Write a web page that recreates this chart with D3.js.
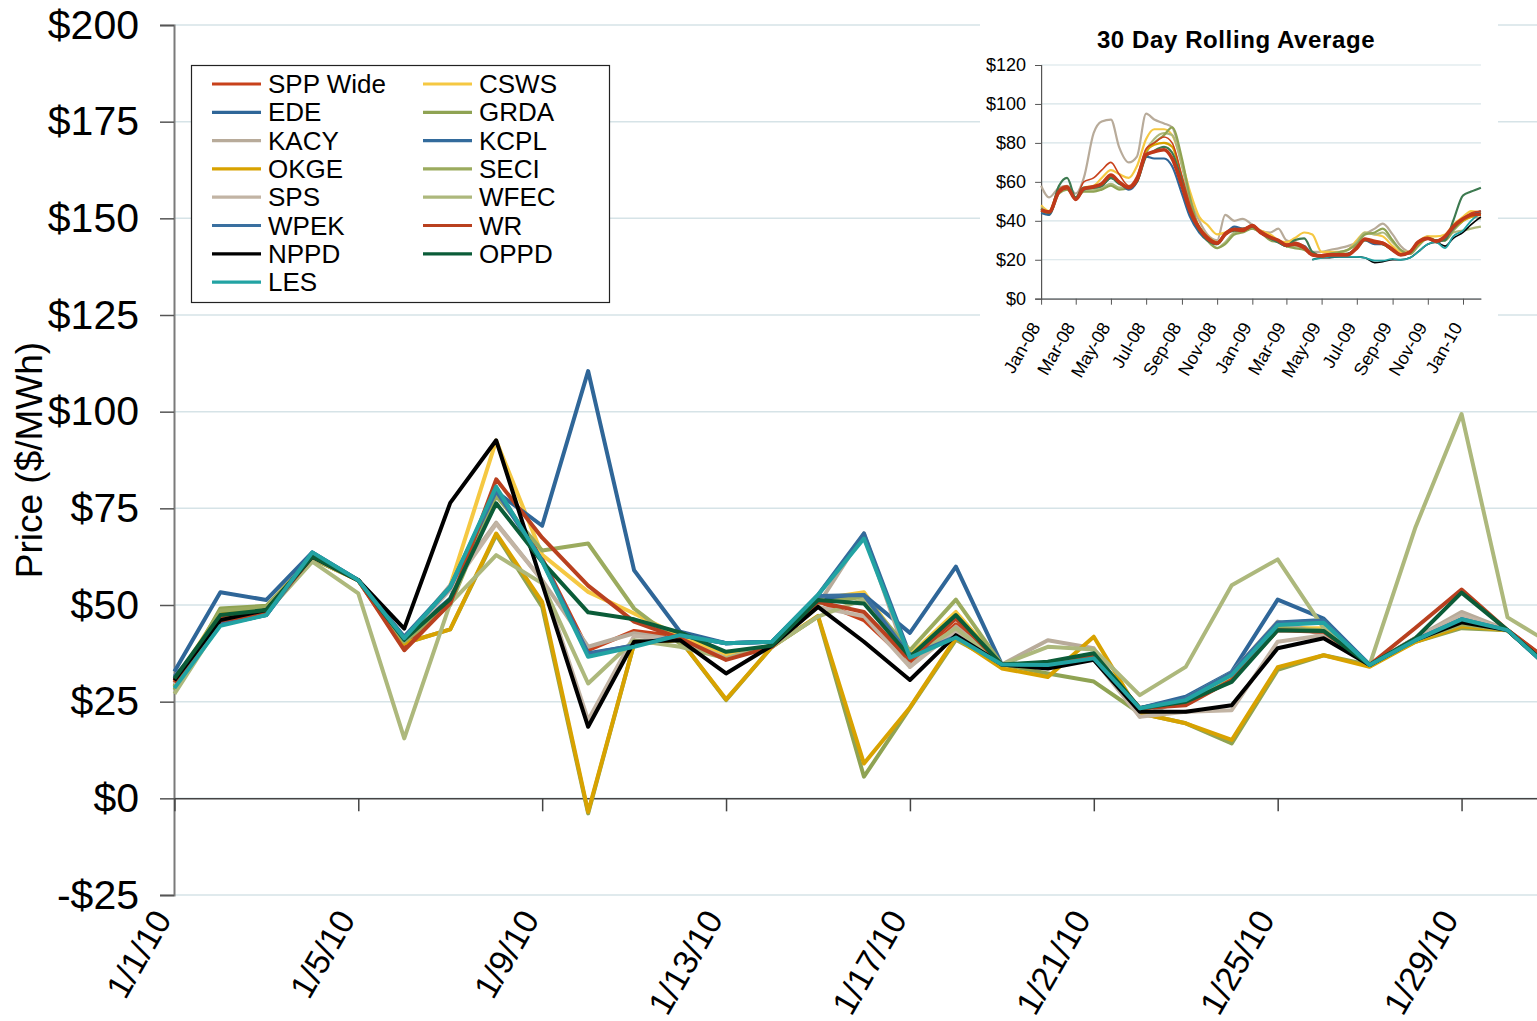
<!DOCTYPE html>
<html lang="en">
<head>
<meta charset="UTF-8">
<title>SPP Daily Prices - January 2010</title>
<script src="https://d3js.org/d3.v7.min.js"></script>
<style>
body { margin: 0; background: #fff; }
svg { display: block; font-family: "Liberation Sans", Arial, sans-serif; }
</style>
</head>
<body>
<div id="chart"></div>
<script>

// ---- main chart data (daily price, $/MWh) ----
var dates = ["1/1/10","1/2/10","1/3/10","1/4/10","1/5/10","1/6/10","1/7/10","1/8/10","1/9/10","1/10/10",
    "1/11/10","1/12/10","1/13/10","1/14/10","1/15/10","1/16/10","1/17/10","1/18/10","1/19/10","1/20/10",
    "1/21/10","1/22/10","1/23/10","1/24/10","1/25/10","1/26/10","1/27/10","1/28/10","1/29/10","1/30/10","1/31/10"];
var xTickLabels = ["1/1/10","1/5/10","1/9/10","1/13/10","1/17/10","1/21/10","1/25/10","1/29/10"];
var yTicks = [-25, 0, 25, 50, 75, 100, 125, 150, 175, 200];

var seriesNames = ["SPP Wide","CSWS","EDE","GRDA","KACY","KCPL","OKGE","SECI","SPS","WFEC","WPEK","WR","NPPD","OPPD","LES"];
var seriesColors = ["#c8411b","#f5c842","#2f6698","#8fa353","#b8ab9a","#336b9c","#d8a200","#9bab5e","#c2b4a4","#adb87c","#3a70a0","#b9401f","#000000","#0b5c38","#22a3a3"];

var sppWide = [30.5,46.5,48.2,62.5,56.4,39,51,80,62,38.3,43.3,41.8,36.5,39.5,51,46.1,35,45,34.6,34.8,36.8,23.3,24.5,31,44.5,43.5,34.5,41.5,46.5,43.5,34.5];
var csws    = [30,48.5,49.5,62.5,56.4,40.1,55,92.5,63,53.4,47.8,42,37,39.5,51.5,53.3,37,48.2,34.6,34.5,37,23.3,24.5,31,44,44,34.5,41,45.2,43.5,33];
var ede     = [32.8,53.3,51.3,63.6,56.4,41.4,51.7,79.3,70.5,110.5,59,43.1,40.1,40.5,51.3,52.6,42.8,59.9,34.6,34.5,36.5,23.3,26.3,32.7,51.4,46.5,34.5,41.1,46.5,43.5,32.7];
var grda    = [28,49.1,49.8,62,56.4,40.1,43.7,68.1,49.5,-3.9,40,41,25.4,39.2,47,5.6,23.3,41,34.6,32.3,30.2,22,19.4,14.2,33.2,37,34.5,40.5,44,43.5,33];
var kacy    = [30,46,48,62.5,56.4,41,55.1,71.3,56.4,39.2,42.7,40.9,36.2,39.5,50,68.5,34,44.4,34.6,40.9,38.8,21.1,25.8,32.5,45.7,42.2,34.5,41.5,48.2,43.5,33];
var kcpl    = [31.5,45,47.4,63.5,56.4,41.8,54.7,80,61.5,37.5,39.5,42.2,40.1,40.5,52.6,68.5,37,41.8,34.6,34.5,36.3,23.3,25.8,32.3,45.5,46.1,34.5,41,46.3,43.5,32.7];
var okge    = [29,48,49,62,56.4,40.1,43.7,68.5,50.8,-3.5,40,41,25.6,39.2,47.2,9,23.5,41.5,33.6,31.4,41.8,22,19.4,15.1,33.9,37,34,40.5,44.5,43.5,33];
var seci    = [29,48.5,49.5,62,56.4,40.5,50,78.2,64.1,65.9,49.1,40,36.2,39.5,50.5,52.1,38.3,51.4,34.6,35,37,23.3,24.5,30.5,44,43.5,34.5,41,45,43.5,33];
var sps     = [29.5,46,48,62.5,56.4,41,54,71,56.4,20.2,42,40.9,36.2,39.5,49.5,47.1,34,43.5,34.6,34.5,36,21.1,22.4,22.8,40.5,42.2,34.5,41.5,47.4,43.5,33];
var wfec    = [27,45.5,48,61.2,53,15.5,50.4,62.9,55.6,29.7,40.9,39.2,36.2,39.2,47,51.5,36,44,34.6,39.2,38.5,26.7,34,55.1,61.8,44,34.5,70.2,99.4,46.8,39.6];
var wpek    = [31,45,47.4,63,56.4,41.5,54.5,79.5,61.5,37.3,39.6,42.2,40.1,40.5,52.3,52.6,36.8,41.8,34.6,34.5,36.3,23.3,25.8,32.5,45.3,46,34.5,41,46.3,43.5,32.7];
var wr      = [30,46,48,62.5,56.4,38.3,50.4,82.5,67.4,55,45.7,41.4,35.8,39.2,50.8,48.2,35.8,46.5,34.6,34.5,36.9,23.3,24.1,30.6,43.5,43.1,34.5,44.1,54,43.5,34.7];
var nppd    = [30.5,46.1,48.7,62.5,56.4,43.9,76.4,92.6,55.5,18.5,40.5,40.9,32.3,39.5,49.5,40.5,30.6,42.2,34.6,33.6,35.8,22.4,22.4,24.1,38.8,41.4,34.5,41,45.5,43.5,33];
var oppd    = [31,47.4,48.7,62.5,56.4,41,51.5,76.3,61.2,48.1,46.3,42.9,37.9,39.5,51.3,50.4,36.6,47.4,34.6,35.3,37.5,23.3,25,30.1,43.5,43.3,34.5,41.4,53.2,43.5,33];
var les     = [28.5,44.6,47.4,63.6,56.4,41.4,54.7,80.6,61.2,36.6,39.2,42.2,40.1,40.5,52.6,67.2,36.4,41.6,34.6,34.5,36.2,23.3,25.4,31.9,44.8,45.4,34.5,40.9,46.3,43.5,32.7];

var seriesValues = [sppWide, csws, ede, grda, kacy, kcpl, okge, seci, sps, wfec, wpek, wr, nppd, oppd, les];

// ---- inset data (30 day rolling average) ----
var avgDates = ["2008-01-01","2008-01-15","2008-02-01","2008-02-15","2008-03-01","2008-03-15","2008-04-01","2008-04-15",
    "2008-05-01","2008-05-15","2008-06-01","2008-06-15","2008-07-01","2008-07-15","2008-08-01","2008-08-15",
    "2008-09-01","2008-09-15","2008-10-01","2008-10-15","2008-11-01","2008-11-15","2008-12-01","2008-12-15",
    "2009-01-01","2009-01-15","2009-02-01","2009-02-15","2009-03-01","2009-03-15","2009-04-01","2009-04-15",
    "2009-05-01","2009-05-15","2009-06-01","2009-06-15","2009-07-01","2009-07-15","2009-08-01","2009-08-15",
    "2009-09-01","2009-09-15","2009-10-01","2009-10-15","2009-11-01","2009-11-15","2009-12-01","2009-12-15",
    "2010-01-01","2010-01-15","2010-02-01"];
var avgTickLabels = ["Jan-08","Mar-08","May-08","Jul-08","Sep-08","Nov-08","Jan-09","Mar-09","May-09","Jul-09","Sep-09","Nov-09","Jan-10"];
var avgYTicks = [0, 20, 40, 60, 80, 100, 120];

var avgKacy = [58,52,57,58,54,62,85,91,92,78,70,73, 95,92,90,88,70,52,40,33,30,43,40,41,
    38,35,34,36,30,29,27,24,24,25,26,27, 29,33,36,38.5,33,27,24,28,32,30,30,36, 40,42,41];
var avgCsws = [48,45,56,57,51,57,58,62,66,64,62,68, 82,87,87,84,70,55,42,38,33,34,36,36,
    37,35,33,30,29,31,34,33,24,24,24,25, 30,34,33,32,27,24,24,29,32,32,33,38, 42,45,44];
var avgWfec = [47,44,55,56,52,56,56,57,59,57,57,61, 76,82,85,84,68,50,36,30,26,29,34,35,
    36,34,31,29,27,27,26,23,22,23,24,25, 29,34,33,34,29,25,23,27,31,30,30,34, 35,36,37];
var avgGrda = [46,43,54,56,52,55,55,56,58,56,57,60, 75,80,84,88,72,52,36,30,26,28,33,34,
    36,34,30,29,27,26,25,23,22,23,24,25, 28,33,34,36,30,25,23,27,31,30,30,35, 40,43,43];
var avgOkge = [45,44,55,57,51,56,57,58,62,60,57,61, 76,79,80,78,62,47,37,32,29,33,36,35,
    37,34,31,30,27,28,26,22.5,22,22.5,23,23, 26,30,29,28,25,22.5,24,28,31,29,31,36, 40,42,43];
var avgEde  = [44,43,55,57,51,56,57,58,62,60,56,60, 73,72,72,68,54,42,34,30,28,33,37,36,
    37,34,31,29,27,28,27,22.5,22,22.5,22.5,23, 26,30,28,28,25,22.5,24,29,31,29,31,36, 41,43,45];
var avgWr   = [46,45,56,58,52,60,62,66,70,64,58,63, 77,80,83,80,63,48,37,32,29,34,36,36,
    38,35,32,30,28,29,27,23,22.5,23,23,23, 27,31,30,29,26,23,24,29,31,30,32,37, 41,44,45];
var avgOppd = [46,44,58,62,52,57,57,58,62,59,57,60, 73,76,78,75,60,45,35,30,28,33,35,35,
    37,34,31,29,27,30,31,24,22,22.5,23,23, 26,30,29,28,25,22.5,24,29,31,30,30,40, 53,55,57];
var avgNppd = [null,null,null,null,null,null,null,null,null,null,null,null,null,null,null,null,
    null,null,null,null,null,null,null,null,null,null,null,null,null,null,null,
    20,21,21,21.5,21.5,21.5,21,18.5,19,20,20,21,24,28,29,27,31,34,38,42];
var avgLes  = [null,null,null,null,null,null,null,null,null,null,null,null,null,null,null,null,
    null,null,null,null,null,null,null,null,null,null,null,null,null,null,null,
    20,21,21.5,21.5,21.5,21.5,21,19.5,19.5,20.5,20,21,24,28,29,26,32,35,40,44];
var avgSpp  = [45.5,44.5,55,57,51,56.5,57.5,59,63.5,60,57,61, 74,75.5,76.5,72,58,45,36,31,28.5,33,35.5,35,
    37.5,34,31.5,30,27.5,28,26,22.5,22,22.5,22.5,22.5, 26,30.5,29,28.5,25,22.5,24,29,31,29.5,32,37, 41,43,43.5];

var avgSeries = [
    {v: avgKacy, c: "#b8ab9a", w: 2.2},
    {v: avgCsws, c: "#f5c842", w: 2.2},
    {v: avgWfec, c: "#adb87c", w: 2.2},
    {v: avgGrda, c: "#8fa353", w: 2.2},
    {v: avgOkge, c: "#d8a200", w: 2.2},
    {v: avgEde,  c: "#2f6698", w: 2.2},
    {v: avgWr,   c: "#c8411b", w: 1.6},
    {v: avgOppd, c: "#3d7a50", w: 2.2},
    {v: avgNppd, c: "#000000", w: 1.6},
    {v: avgLes,  c: "#22a3a3", w: 1.8},
    {v: avgSpp,  c: "#c0391a", w: 3.6}
];

var W = 1537, H = 1021;
var svg = d3.select("#chart").append("svg").attr("width", W).attr("height", H);

var x = d3.scalePoint().domain(dates).range([174.4, 1553.5]);
var y = d3.scaleLinear().domain([-25, 200]).range([895, 25]);

// gridlines
svg.append("g").selectAll("line")
    .data(yTicks).enter().append("line")
    .attr("x1", 174).attr("x2", W)
    .attr("y1", function(d) { return y(d); })
    .attr("y2", function(d) { return y(d); })
    .attr("stroke", "#d6e3e7").attr("stroke-width", 1.5);

// y axis
var yAxis = svg.append("g")
    .attr("transform", "translate(174,0)")
    .call(d3.axisLeft(y).tickValues(yTicks).tickSize(14).tickPadding(21)
        .tickFormat(function(d) { return d < 0 ? "-$" + (-d) : "$" + d; }));
yAxis.select(".domain").attr("stroke", "#7a7a7a").attr("stroke-width", 2);
yAxis.selectAll(".tick line").attr("stroke", "#555").attr("stroke-width", 1.5);
yAxis.selectAll("text").attr("font-size", 41).attr("fill", "#000")
    .attr("font-family", "'Liberation Sans', Arial, sans-serif");

// x axis at $0
var xAxis = svg.append("g")
    .attr("transform", "translate(0," + y(0) + ")")
    .call(d3.axisBottom(x).tickValues(xTickLabels).tickSize(13).tickSizeOuter(0).tickFormat(""));
xAxis.select(".domain").attr("stroke", "#444").attr("stroke-width", 1.5);
xAxis.selectAll(".tick line").attr("stroke", "#444").attr("stroke-width", 1.5);

// x labels below the chart
svg.append("g").selectAll("text")
    .data(xTickLabels).enter().append("text")
    .attr("transform", function(d) { return "translate(" + (x(d) - 2) + ",919) rotate(-60)"; })
    .attr("text-anchor", "end")
    .attr("font-size", 34)
    .text(function(d) { return d; });

// y title
svg.append("text")
    .attr("transform", "translate(42,460) rotate(-90)")
    .attr("text-anchor", "middle")
    .attr("font-size", 37)
    .text("Price ($/MWh)");

// series lines
var line = d3.line()
    .x(function(d, i) { return x(dates[i]); })
    .y(function(d) { return y(d); });

svg.append("g").selectAll("path")
    .data(seriesValues).enter().append("path")
    .attr("d", line)
    .attr("fill", "none")
    .attr("stroke", function(d, i) { return seriesColors[i]; })
    .attr("stroke-width", 4)
    .attr("stroke-linejoin", "round");

// legend
var legend = svg.append("g");
legend.append("rect")
    .attr("x", 191.5).attr("y", 65.5).attr("width", 418).attr("height", 237)
    .attr("fill", "#fff").attr("stroke", "#222").attr("stroke-width", 1.2);

var item = legend.selectAll(".item")
    .data(seriesNames).enter().append("g")
    .attr("transform", function(d, i) {
        var col = i % 2, row = Math.floor(i / 2);
        return "translate(" + (col ? 423 : 212) + "," + (84 + row * 28.3) + ")";
    });
item.append("line")
    .attr("x1", 0).attr("x2", 49).attr("y1", 0).attr("y2", 0)
    .attr("stroke", function(d, i) { return seriesColors[i]; })
    .attr("stroke-width", 3.2);
item.append("text")
    .attr("x", 56).attr("y", 9)
    .attr("font-size", 26)
    .text(function(d) { return d; });

// ---- inset: 30 day rolling average ----
var parseDay = d3.timeParse("%Y-%m-%d");
var parseTick = d3.timeParse("%b-%y");
var avgDays = avgDates.map(parseDay);

var inset = svg.append("g");
inset.append("rect")
    .attr("x", 980).attr("y", 12).attr("width", 518).attr("height", 376)
    .attr("fill", "#fff");

var ix = d3.scaleTime().domain([parseDay("2008-01-01"), parseDay("2010-02-01")]).range([1041.1, 1480.9]);
var iy = d3.scaleLinear().domain([0, 120]).range([298.7, 65]);

inset.append("g").selectAll("line")
    .data(avgYTicks).enter().append("line")
    .attr("x1", 1041.1).attr("x2", 1480.9)
    .attr("y1", function(d) { return iy(d); })
    .attr("y2", function(d) { return iy(d); })
    .attr("stroke", "#d6e3e7").attr("stroke-width", 1.2);

inset.append("text")
    .attr("x", 1236).attr("y", 48)
    .attr("text-anchor", "middle")
    .attr("font-size", 24).attr("font-weight", "bold")
    .attr("letter-spacing", 0.6)
    .text("30 Day Rolling Average");

var iyAxis = inset.append("g")
    .attr("transform", "translate(1041.1,0)")
    .call(d3.axisLeft(iy).tickValues(avgYTicks).tickSize(6).tickPadding(9)
        .tickFormat(function(d) { return "$" + d; }));
iyAxis.selectAll("text").attr("font-size", 18).attr("fill", "#000")
    .attr("font-family", "'Liberation Sans', Arial, sans-serif");
iyAxis.select(".domain").attr("stroke", "#555").attr("stroke-width", 1.2);
iyAxis.selectAll(".tick line").attr("stroke", "#555");

var ixAxis = inset.append("g")
    .attr("transform", "translate(0,298.7)")
    .call(d3.axisBottom(ix).tickValues(avgTickLabels.map(parseTick)).tickSize(6).tickSizeOuter(0).tickFormat(""));
ixAxis.select(".domain").attr("stroke", "#555").attr("stroke-width", 1.2);
ixAxis.selectAll(".tick line").attr("stroke", "#555");

inset.append("g").selectAll("text")
    .data(avgTickLabels).enter().append("text")
    .attr("transform", function(d) { return "translate(" + ix(parseTick(d)) + ",327) rotate(-60)"; })
    .attr("text-anchor", "end")
    .attr("font-size", 18)
    .text(function(d) { return d; });

var avgLine = d3.line()
    .defined(function(d) { return d != null; })
    .x(function(d, i) { return ix(avgDays[i]); })
    .y(function(d) { return iy(d); })
    .curve(d3.curveMonotoneX);

inset.append("g").selectAll("path")
    .data(avgSeries).enter().append("path")
    .attr("d", function(s) { return avgLine(s.v); })
    .attr("fill", "none")
    .attr("stroke", function(s) { return s.c; })
    .attr("stroke-width", function(s) { return s.w; })
    .attr("stroke-linejoin", "round");

</script>
</body>
</html>
